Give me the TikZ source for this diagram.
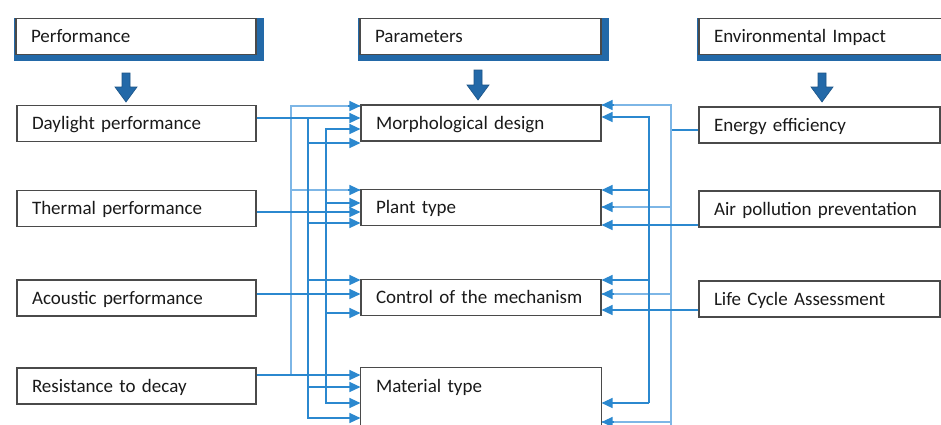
\documentclass[tikz,border=0pt]{standalone}
\usepackage{fontspec}
\setmainfont{Carlito}
\usetikzlibrary{arrows.meta}
\definecolor{lnblue}{HTML}{2B88CF}
\definecolor{ltblue}{HTML}{7DB6E6}
\definecolor{hdblue}{HTML}{2369A8}
\definecolor{bxgray}{HTML}{4A4A4A}
\definecolor{txt}{HTML}{1A1A1A}
\begin{document}
\begin{tikzpicture}[x=1pt,y=-1pt,
  font=\fontsize{19}{22}\selectfont,
  box/.style={draw=bxgray, line width=1.1pt, fill=white, text=txt,
    minimum height=36pt, inner xsep=15pt, inner ysep=0pt,
    text height=16pt, text depth=4pt,
    text width=#1, align=left, anchor=center},
  hdshadow/.style={fill=hdblue},
  blk/.style={fill=hdblue, draw=hdblue!80!black, line width=0.6pt},
  ln/.style={draw=lnblue, line width=1.3pt},
  lt/.style={draw=ltblue, line width=1.3pt},
  arr/.style={-{Triangle[length=11pt,width=10pt]}},
  ]
\useasboundingbox (0,0) rectangle (941,424);
\clip (0,0) rectangle (941,424);
\fill[white] (0,0) rectangle (941,424);

% header shadows
\fill[hdshadow] (14,18) rectangle (264,61);
\fill[hdshadow] (358,18) rectangle (609,61);
\fill[hdshadow] (697,18) rectangle (958,61);
% headers
\node[box=210pt] (perf) at (136,36.5) {Performance};
\node[box=211pt] (para) at (480.5,36.5) {Parameters};
\node[box=220pt] (env) at (824,36.5) {Environmental Impact};

% block arrows
\filldraw[blk] (122,73) -- (130,73) -- (130,87) -- (137,87) -- (126,102) -- (115,87) -- (122,87) -- cycle;
\filldraw[blk] (474,70) -- (482,70) -- (482,85) -- (489,85) -- (478,100) -- (467,85) -- (474,85) -- cycle;
\filldraw[blk] (818,73) -- (826,73) -- (826,87) -- (833,87) -- (822,102) -- (811,87) -- (818,87) -- cycle;

% left boxes
\node[box=209pt] (day) at (136.5,123.5) {Daylight performance};
\node[box=209pt] (therm) at (136.5,208.5) {Thermal performance};
\node[box=209pt] (acou) at (136.5,298) {Acoustic performance};
\node[box=209pt] (res) at (136.5,386) {Resistance to decay};

% middle boxes
\node[box=210pt] (morph) at (481,123) {Morphological design};
\node[box=210pt] (plant) at (481,207.5) {Plant type};
\node[box=210pt] (ctrl) at (481,297.5) {Control of the mechanism};
\node[box=210pt, draw=none, fill=none] (mat) at (481,386) {Material type};
\draw[draw=bxgray, line width=1.1pt] (mat.south west) -- (mat.north west) -- (mat.north east) -- (mat.south east);
\draw[draw=bxgray, line width=1.1pt] (mat.south west) -- ++(0,50);
\draw[draw=bxgray, line width=1.1pt] (mat.south east) -- ++(0,50);

% right boxes
\node[box=211pt] (ener) at (819.5,125) {Energy efficiency};
\node[box=211pt] (air) at (819.5,209) {Air pollution preventation};
\node[box=211pt] (life) at (819.5,299) {Life Cycle Assessment};

% ---- left connectors ----
% bus A (light) from Resistance
\draw[lt] (291,375) -- (291,106) -- (morph.west |- 0,106);
\draw[lt] (291,190) -- (plant.west |- 0,190);
\draw[ln,arr] ([xshift=-12pt]morph.west |- 0,106) -- (morph.west |- 0,106);
\draw[ln,arr] ([xshift=-12pt]plant.west |- 0,190) -- (plant.west |- 0,190);
% bus B from Daylight
\draw[ln,arr] (308,118) -- (308,418) -- (mat.west |- 0,418);
\draw[ln,arr] (308,143) -- (morph.west |- 0,143);
\draw[ln,arr] (308,223) -- (plant.west |- 0,223);
\draw[ln,arr] (308,280) -- (ctrl.west |- 0,280);
\draw[ln,arr] (308,387) -- (mat.west |- 0,387);
% bus C from Thermal
\draw[ln,arr] (326,212) -- (326,129) -- (morph.west |- 0,129);
\draw[ln,arr] (326,212) -- (326,403) -- (mat.west |- 0,403);
\draw[ln,arr] (326,203) -- (plant.west |- 0,203);
\draw[ln,arr] (326,313) -- (ctrl.west |- 0,313);
% direct lines
\draw[ln,arr] (day.east |- 0,118) -- (morph.west |- 0,118);
\draw[ln,arr] (therm.east |- 0,212) -- (plant.west |- 0,212);
\draw[ln,arr] (acou.east |- 0,294) -- (ctrl.west |- 0,294);
\draw[ln,arr] (res.east |- 0,375) -- (mat.west |- 0,375);

% ---- right connectors ----
% bus R1 (light) from Energy efficiency
\draw[ln] (ener.west |- 0,130) -- (671,130);
\draw[lt] (671,440) -- (671,105) -- (morph.east |- 0,105);
\draw[lt] (671,207) -- (plant.east |- 0,207);
\draw[lt] (671,294) -- (ctrl.east |- 0,294);
\draw[lt] (671,422) -- (mat.east |- 0,422);
\draw[ln,arr] ([xshift=12pt]morph.east |- 0,105) -- (morph.east |- 0,105);
\draw[ln,arr] ([xshift=12pt]plant.east |- 0,207) -- (plant.east |- 0,207);
\draw[ln,arr] ([xshift=12pt]ctrl.east |- 0,294) -- (ctrl.east |- 0,294);
\draw[ln,arr] ([xshift=12pt]mat.east |- 0,422) -- (mat.east |- 0,422);
% bus R2
\draw[ln,arr] (649,403) -- (649,117) -- (morph.east |- 0,117);
\draw[ln,arr] (649,190) -- (plant.east |- 0,190);
\draw[ln,arr] (649,280) -- (ctrl.east |- 0,280);
\draw[ln,arr] (649,403) -- (mat.east |- 0,403);
% direct lines
\draw[ln,arr] (air.west |- 0,225) -- (plant.east |- 0,225);
\draw[ln,arr] (life.west |- 0,310) -- (ctrl.east |- 0,310);
\end{tikzpicture}
\end{document}
